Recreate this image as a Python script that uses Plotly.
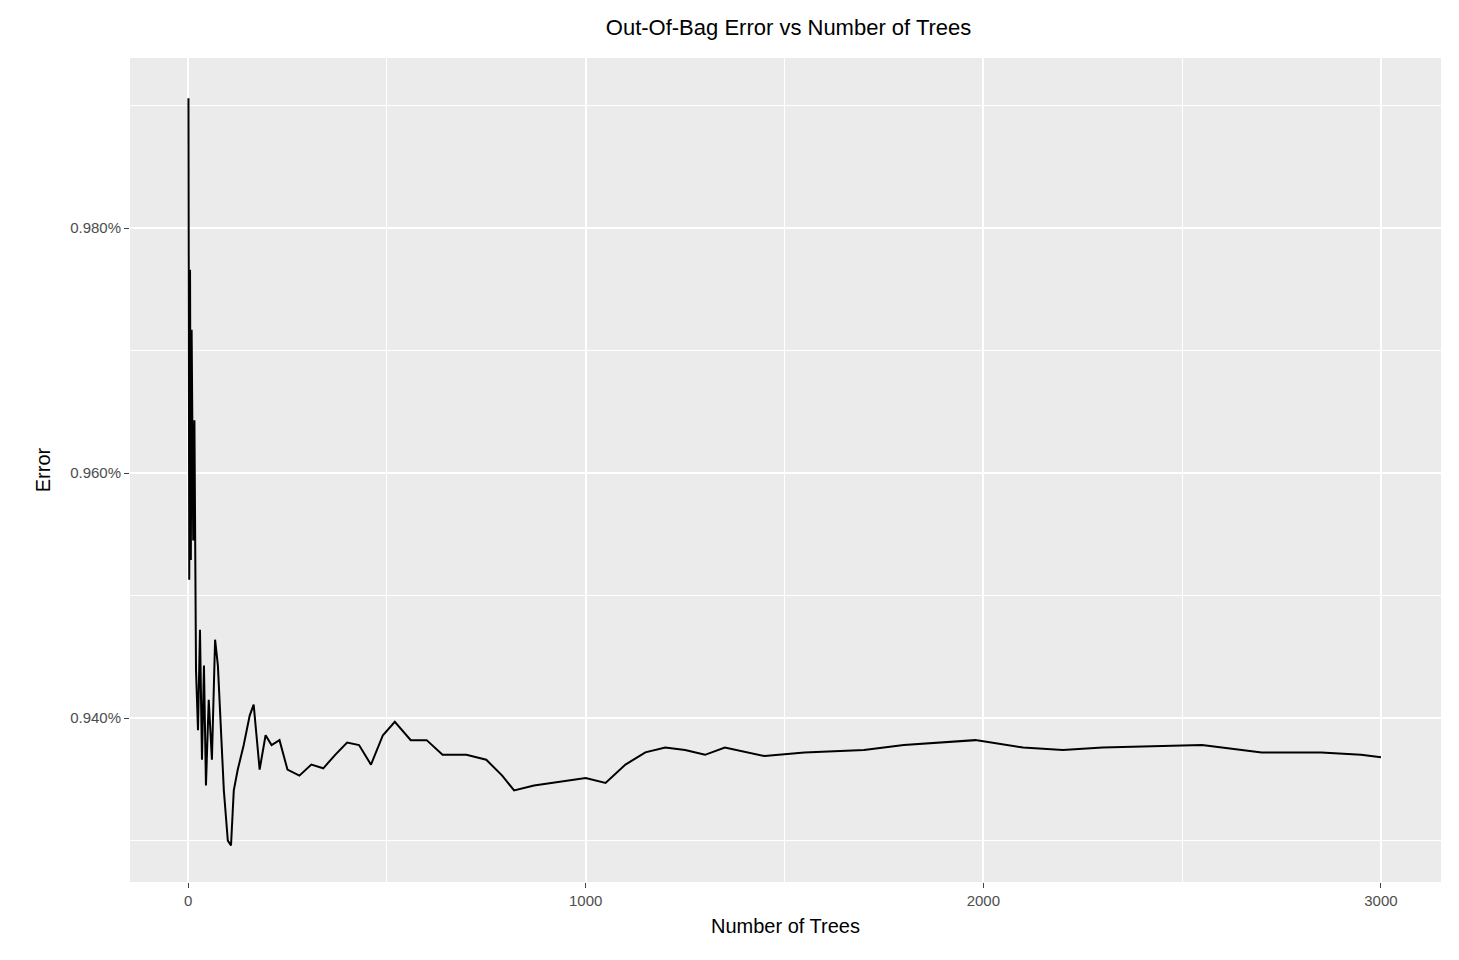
import plotly.graph_objects as go

# values (error in %)
trees = [1, 3, 5, 7, 9, 11, 13, 16, 20, 25, 30, 35, 40, 45, 52, 60, 68, 75, 82, 90,
         100, 108, 115, 125, 140, 155, 165, 180, 195, 210, 230, 250, 280, 310, 340,
         370, 400, 430, 460, 490, 520, 560, 600, 640, 700, 750, 790, 820, 870, 950,
         1000, 1050, 1100, 1150, 1200, 1250, 1300, 1350, 1450, 1550, 1700, 1800,
         1900, 1980, 2100, 2200, 2300, 2450, 2550, 2700, 2850, 2950, 3000]
error = [0.9906, 0.9513, 0.9766, 0.9529, 0.9717, 0.9635, 0.9545, 0.9643, 0.9439,
         0.9390, 0.9472, 0.9366, 0.9443, 0.9345, 0.9415, 0.9366, 0.9464, 0.9443,
         0.9390, 0.9341, 0.9300, 0.9296, 0.9341, 0.9358, 0.9378, 0.9402, 0.9411,
         0.9358, 0.9386, 0.9378, 0.9382, 0.9358, 0.9353, 0.9362, 0.9359, 0.9370,
         0.9380, 0.9378, 0.9362, 0.9386, 0.9397, 0.9382, 0.9382, 0.9370, 0.9370,
         0.9366, 0.9353, 0.9341, 0.9345, 0.9349, 0.9351, 0.9347, 0.9362, 0.9372,
         0.9376, 0.9374, 0.9370, 0.9376, 0.9369, 0.9372, 0.9374, 0.9378, 0.9380,
         0.9382, 0.9376, 0.9374, 0.9376, 0.9377, 0.9378, 0.9372, 0.9372, 0.9370,
         0.9368]

y_ticks = [0.94, 0.96, 0.98]
y_labels = ["0.940%", "0.960%", "0.980%"]

fig = go.Figure(go.Scatter(x=trees, y=error, mode="lines",
                           line=dict(color="black", width=2)))

fig.update_layout(
    width=1459, height=960,
    title=dict(text="Out-Of-Bag Error vs Number of Trees", x=0.535, y=0.988,
               font=dict(size=22, color="black")),
    font=dict(family="Arial, Liberation Sans", color="black"),
    plot_bgcolor="#EBEBEB", paper_bgcolor="white",
    margin=dict(l=122, r=26, t=50, b=86),
    showlegend=False,
)
fig.update_xaxes(range=[-146, 3151], tickvals=[0, 1000, 2000, 3000],
                 gridcolor="white", gridwidth=2, zeroline=False,
                 ticks="outside", ticklen=5, tickcolor="#444",
                 tickfont=dict(size=15, color="#4D4D4D"),
                 minor=dict(tickvals=[500, 1500, 2500], gridcolor="white", gridwidth=1),
                 title=dict(text="Number of Trees", font=dict(size=20), standoff=10))
fig.update_yaxes(range=[0.92662, 0.99388], tickvals=y_ticks, ticktext=y_labels,
                 gridcolor="white", gridwidth=2, zeroline=False,
                 ticks="outside", ticklen=5, tickcolor="#444",
                 tickfont=dict(size=15, color="#4D4D4D"),
                 minor=dict(tickvals=[0.93, 0.95, 0.97, 0.99], gridcolor="white", gridwidth=1),
                 title=dict(text="Error", font=dict(size=20), standoff=14))

fig.write_html("out.html")
